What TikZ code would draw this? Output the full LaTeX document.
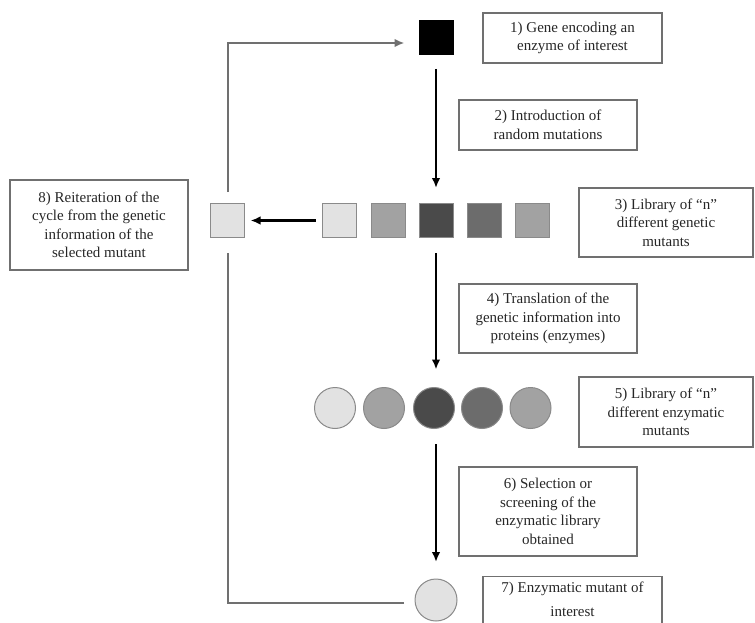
\documentclass[tikz,border=0pt]{standalone}
\usepackage{fontspec}
\setmainfont{Liberation Serif}
\usetikzlibrary{arrows.meta}
\definecolor{clight}{HTML}{E2E2E2}
\definecolor{cmid}{HTML}{A2A2A2}
\definecolor{cdark}{HTML}{4A4A4A}
\definecolor{cdmid}{HTML}{6C6C6C}
\definecolor{edge}{HTML}{8A8A8A}
\definecolor{loopc}{HTML}{707070}
\begin{document}
\begin{tikzpicture}[x=1pt,y=-1pt,
  lbl/.style={draw=loopc, line width=1.3pt, align=center, font=\fontsize{15}{18.5}\selectfont, inner sep=0pt, text=black!85},
  plain/.style={align=center, font=\fontsize{15}{18.5}\selectfont, inner sep=0pt, text=black!85},
  sq/.style={draw=edge, line width=1pt, minimum size=34pt, inner sep=0pt},
  circ/.style={circle, draw=edge, line width=1pt, minimum size=41pt, inner sep=0pt},
  arr/.style={line width=2.2pt, -{Latex[length=10pt,width=8.5pt]}},
  loopline/.style={draw=loopc, line width=2pt}]
\useasboundingbox (0,0) rectangle (755,623);

% labels
\node[lbl, minimum width=179pt, minimum height=50pt] (b1) at (572.5,38) {1) Gene encoding an\\enzyme of interest};
\node[lbl, minimum width=178pt, minimum height=50pt] (b2) at (548,125) {2) Introduction of\\random mutations};
\node[lbl, minimum width=174pt, minimum height=69pt] (b3) at (666,222.5) {3) Library of “n”\\different genetic\\mutants};
\node[lbl, minimum width=178pt, minimum height=69pt] (b4) at (548,318.5) {4) Translation of the\\genetic information into\\proteins (enzymes)};
\node[lbl, minimum width=174pt, minimum height=70pt] (b5) at (666,412) {5) Library of “n”\\different enzymatic\\mutants};
\node[lbl, minimum width=178pt, minimum height=89pt] (b6) at (548,511.5) {6) Selection or\\screening of the\\enzymatic library\\obtained};
\node[lbl, minimum width=179pt, minimum height=62pt, anchor=north] (b7) at (572.5,576) {};
\node[plain] (b7t) at (572.5,599) {7) Enzymatic mutant of\\[5.5pt]interest};
\node[lbl, minimum width=178pt, minimum height=90pt] (b8) at (99,225) {8) Reiteration of the\\cycle from the genetic\\information of the\\selected mutant};

% gene
\node[sq, fill=black, draw=black] (gene) at (436,37.5) {};

% library of genetic mutants
\node[sq, fill=clight] (s1) at (339.5,220.5) {};
\node[sq, fill=cmid]   (s2) at (388,220.5) {};
\node[sq, fill=cdark]  (s3) at (436,220.5) {};
\node[sq, fill=cdmid]  (s4) at (484.5,220.5) {};
\node[sq, fill=cmid]   (s5) at (532,220.5) {};

% selected mutant
\node[sq, fill=clight] (sel) at (227.5,220.5) {};

% enzymatic library
\node[circ, fill=clight] (c1) at (335,408) {};
\node[circ, fill=cmid]   (c2) at (384,408) {};
\node[circ, fill=cdark]  (c3) at (434,408) {};
\node[circ, fill=cdmid]  (c4) at (482,408) {};
\node[circ, fill=cmid]   (c5) at (530.5,408) {};

% selected enzyme
\node[circ, fill=clight, minimum size=42pt] (c7) at (436,600) {};

% arrows
\draw[arr] ([yshift=-14pt]gene.south) -- ([yshift=15pt]s3.north);
\draw[arr] ([yshift=-15pt]s3.south) -- ([yshift=17.5pt]s3.south |- c3.north);
\draw[arr] ([yshift=-15pt]s3.south |- c3.south) -- ([yshift=16.5pt]c7.north);
\draw[arr] ([xshift=-6.5pt]s1.west) -- ([xshift=5.5pt]sel.east);

% loop back
\draw[loopline] ([xshift=-10.5pt,yshift=-3pt]c7.west) -| ([yshift=-15pt]sel.south);
\draw[loopline, -{Latex[length=10pt,width=8.5pt]}] ([yshift=11pt]sel.north) |- ([xshift=-14pt,yshift=-5.5pt]gene.west);
\end{tikzpicture}
\end{document}
